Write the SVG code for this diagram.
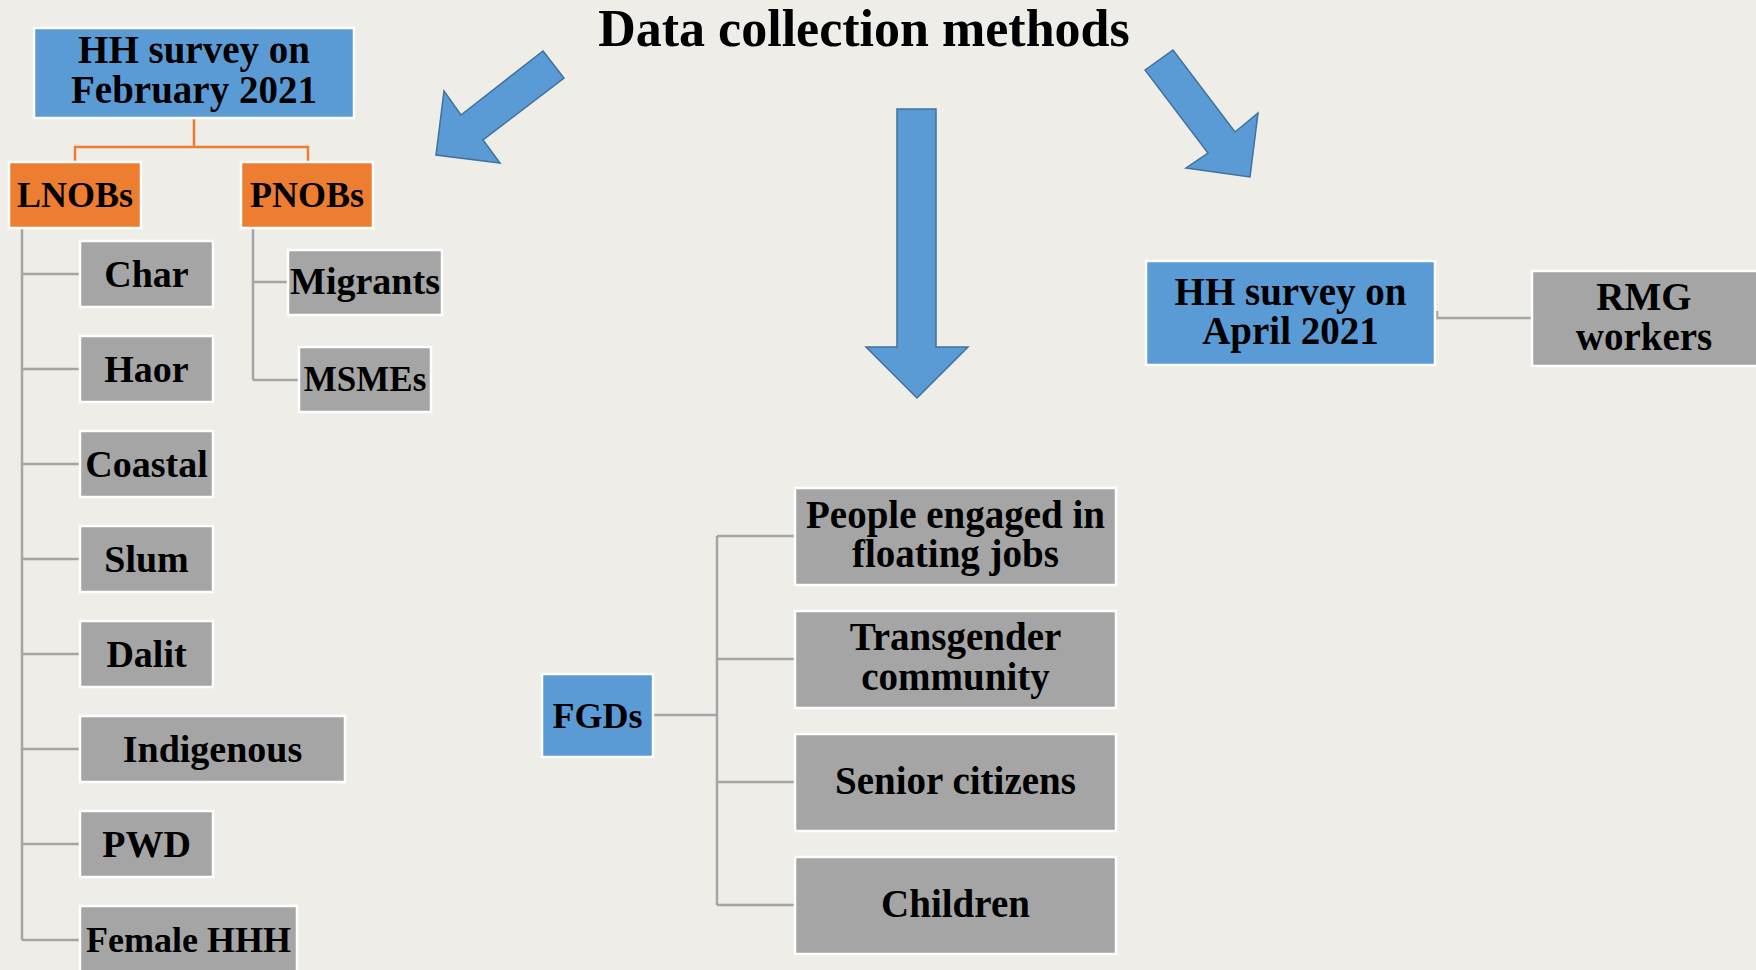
<svg xmlns="http://www.w3.org/2000/svg" width="1756" height="970" viewBox="0 0 1756 970">
<style>
.bg{fill:#EEEDE8}
.blue{fill:#5B9BD5;stroke:#FFFFFF;stroke-width:2.5}
.orange{fill:#ED7D31;stroke:#FFFFFF;stroke-width:2.5}
.grey{fill:#A5A5A5;stroke:#FFFFFF;stroke-width:2.5}
.arrow{fill:#5B9BD5;stroke:#41719C;stroke-width:1.5;stroke-linejoin:miter}
.cg{fill:none;stroke:#A5A5A5;stroke-width:2.5}
.co{fill:none;stroke:#ED7D31;stroke-width:2.5}
text{font-family:"Liberation Serif","Times New Roman",serif;font-weight:bold;fill:#000;text-anchor:middle}
.t38{font-size:38px}
.t39{font-size:39px}
.t36{font-size:36px}
.t35{font-size:35px}
.title{font-size:52px}
</style>
<rect class="bg" x="0" y="0" width="1756" height="970"/>
<text id="title" class="title" x="864" y="46">Data collection methods</text>
<g id="arrows">
<polygon id="arrow-left" class="arrow" points="543,51 564,78 483,140 500,163 436,155 444,91 461,115"/>
<polygon id="arrow-down" class="arrow" points="897,109 936,109 936,347 968,347 917,398 866,347 897,347"/>
<polygon id="arrow-right" class="arrow" points="1145,70 1173,50 1235,132 1258,113 1250,177 1186,168 1208,153"/>
</g>
<g id="connectors">
<path class="co" d="M194,118 V147 M75,162 V147 H308 V162"/>
<path class="cg" d="M22,228 V940 M22,274 H80 M22,369 H80 M22,464 H80 M22,559 H80 M22,654 H80 M22,749 H80 M22,844 H80 M22,940 H80"/>
<path class="cg" d="M253,228 V380 M253,282 H288 M253,380 H299"/>
<path class="cg" d="M653,715 H717 M717,536 V905 M717,536 H795 M717,659 H795 M717,782 H795 M717,905 H795"/>
<path class="cg" d="M1437,311 V318 H1532"/>
</g>
<g id="hh-feb"><rect class="blue" x="34" y="28" width="320" height="90"/><text class="t39" x="194" y="63">HH survey on</text><text class="t39" x="194" y="103">February 2021</text></g>
<g id="lnobs"><rect class="orange" x="9" y="162" width="132" height="66"/><text class="t36" x="75" y="207">LNOBs</text></g>
<g id="pnobs"><rect class="orange" x="241" y="162" width="132" height="66"/><text class="t36" x="307" y="207">PNOBs</text></g>
<g id="char"><rect class="grey" x="80" y="241" width="133" height="66"/><text class="t38" x="146.5" y="287">Char</text></g>
<g id="haor"><rect class="grey" x="80" y="336" width="133" height="66"/><text class="t38" x="146.5" y="382">Haor</text></g>
<g id="coastal"><rect class="grey" x="80" y="431" width="133" height="66"/><text class="t38" x="146.5" y="477">Coastal</text></g>
<g id="slum"><rect class="grey" x="80" y="526" width="133" height="66"/><text class="t38" x="146.5" y="572">Slum</text></g>
<g id="dalit"><rect class="grey" x="80" y="621" width="133" height="66"/><text class="t38" x="146.5" y="667">Dalit</text></g>
<g id="indigenous"><rect class="grey" x="80" y="716" width="265" height="66"/><text class="t38" x="212.5" y="762">Indigenous</text></g>
<g id="pwd"><rect class="grey" x="80" y="811" width="133" height="66"/><text class="t38" x="146.5" y="857">PWD</text></g>
<g id="female-hhh"><rect class="grey" x="80" y="906" width="217" height="70"/><text class="t36" x="188.5" y="952">Female HHH</text></g>
<g id="migrants"><rect class="grey" x="288" y="250" width="154" height="65"/><text class="t38" x="365" y="294">Migrants</text></g>
<g id="msmes"><rect class="grey" x="299" y="347" width="132" height="65"/><text class="t35" x="365" y="391">MSMEs</text></g>
<g id="fgds"><rect class="blue" x="542" y="674" width="111" height="83"/><text class="t36" x="597.5" y="728">FGDs</text></g>
<g id="floating"><rect class="grey" x="795" y="488" width="321" height="97"/><text class="t39" x="955.5" y="528">People engaged in</text><text class="t39" x="955.5" y="567">floating jobs</text></g>
<g id="transgender"><rect class="grey" x="795" y="611" width="321" height="97"/><text class="t39" x="955.5" y="650">Transgender</text><text class="t39" x="955.5" y="690">community</text></g>
<g id="senior"><rect class="grey" x="795" y="734" width="321" height="97"/><text class="t39" x="955.5" y="794">Senior citizens</text></g>
<g id="children"><rect class="grey" x="795" y="857" width="321" height="97"/><text class="t39" x="955.5" y="917">Children</text></g>
<g id="hh-april"><rect class="blue" x="1146" y="261" width="289" height="104"/><text class="t39" x="1290.5" y="305">HH survey on</text><text class="t39" x="1290.5" y="344">April 2021</text></g>
<g id="rmg"><rect class="grey" x="1532" y="271" width="228" height="95"/><text class="t39" x="1644" y="310">RMG</text><text class="t39" x="1644" y="350">workers</text></g>
</svg>
